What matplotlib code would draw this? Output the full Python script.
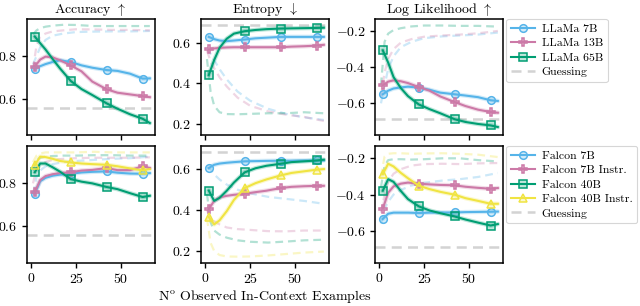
import matplotlib
matplotlib.use("Agg")
import matplotlib.pyplot as plt
from matplotlib.colors import to_rgba
from matplotlib.lines import Line2D

plt.rcParams['font.family'] = ['cmr10', 'DejaVu Serif']
plt.rcParams['mathtext.fontset'] = 'cm'
plt.rcParams['axes.formatter.use_mathtext'] = True
plt.rcParams['font.size'] = 10
plt.rcParams['axes.unicode_minus'] = True

# ---------------- data ----------------
X = [2, 5, 8, 12, 16, 22, 28, 34, 42, 48, 55, 62, 66]          # smoothed curves
XD = [1, 3, 5, 8, 12, 18, 25, 35, 45, 55, 66]                  # faint dashed curves
MARK_IDX = [0, 5, 8, 11]                                        # markers at 2, 22, 42, 62

guess_acc = 0.556
guess_ent = 0.687
guess_ll = -0.687

# Top row: LLaMa
llama_names = ["LLaMa 7B", "LLaMa 13B", "LLaMa 65B"]
llama_acc = [
    [0.74, 0.752, 0.762, 0.772, 0.78, 0.772, 0.756, 0.745, 0.734, 0.73, 0.717, 0.694, 0.695],
    [0.75, 0.783, 0.797, 0.793, 0.78, 0.756, 0.728, 0.68, 0.644, 0.628, 0.62, 0.612, 0.607],
    [0.891, 0.86, 0.83, 0.785, 0.742, 0.683, 0.645, 0.617, 0.578, 0.553, 0.527, 0.506, 0.486],
]
llama_acc_d = [
    [0.76, 0.80, 0.84, 0.875, 0.895, 0.905, 0.912, 0.914, 0.915, 0.915, 0.917],
    [0.74, 0.85, 0.89, 0.905, 0.915, 0.92, 0.925, 0.924, 0.922, 0.922, 0.92],
    [0.90, 0.92, 0.93, 0.937, 0.942, 0.946, 0.945, 0.94, 0.94, 0.94, 0.94],
]
llama_ent = [
    [0.629, 0.618, 0.611, 0.608, 0.611, 0.616, 0.622, 0.625, 0.629, 0.629, 0.629, 0.629, 0.629],
    [0.567, 0.572, 0.575, 0.577, 0.578, 0.578, 0.578, 0.578, 0.578, 0.581, 0.583, 0.586, 0.59],
    [0.441, 0.515, 0.575, 0.62, 0.645, 0.657, 0.663, 0.667, 0.67, 0.671, 0.672, 0.673, 0.674],
]
llama_ent_d = [
    [0.575, 0.545, 0.515, 0.47, 0.42, 0.36, 0.315, 0.275, 0.25, 0.233, 0.22],
    [0.56, 0.51, 0.475, 0.43, 0.385, 0.33, 0.29, 0.262, 0.246, 0.235, 0.215],
    [0.52, 0.36, 0.29, 0.258, 0.249, 0.248, 0.25, 0.253, 0.253, 0.258, 0.253],
]
llama_ll = [
    [-0.55, -0.53, -0.518, -0.512, -0.508, -0.513, -0.525, -0.541, -0.55, -0.557, -0.566, -0.583, -0.587],
    [-0.5, -0.48, -0.473, -0.478, -0.488, -0.51, -0.53, -0.562, -0.593, -0.615, -0.635, -0.648, -0.652],
    [-0.307, -0.375, -0.455, -0.515, -0.56, -0.606, -0.632, -0.655, -0.688, -0.703, -0.714, -0.722, -0.731],
]
llama_ll_d = [
    [-0.6, -0.5, -0.41, -0.34, -0.29, -0.26, -0.24, -0.23, -0.225, -0.22, -0.209],
    [-0.56, -0.43, -0.355, -0.3, -0.265, -0.245, -0.232, -0.225, -0.22, -0.213, -0.2],
    [-0.5, -0.26, -0.215, -0.195, -0.185, -0.175, -0.17, -0.17, -0.172, -0.172, -0.176],
]

# Bottom row: Falcon
falcon_names = ["Falcon 7B", "Falcon 7B Instr.", "Falcon 40B", "Falcon 40B Instr."]
falcon_acc = [
    [0.752, 0.81, 0.826, 0.836, 0.841, 0.845, 0.851, 0.854, 0.856, 0.85, 0.846, 0.845, 0.848],
    [0.758, 0.815, 0.834, 0.843, 0.848, 0.852, 0.86, 0.863, 0.872, 0.862, 0.862, 0.88, 0.872],
    [0.852, 0.893, 0.893, 0.875, 0.855, 0.82, 0.808, 0.8, 0.783, 0.773, 0.754, 0.736, 0.742],
    [0.885, 0.925, 0.923, 0.915, 0.905, 0.898, 0.893, 0.89, 0.887, 0.88, 0.87, 0.861, 0.867],
]
falcon_acc_d = [
    [0.75, 0.83, 0.86, 0.88, 0.89, 0.90, 0.905, 0.91, 0.915, 0.918, 0.925],
    [0.80, 0.87, 0.89, 0.90, 0.91, 0.915, 0.918, 0.92, 0.92, 0.92, 0.922],
    [0.86, 0.91, 0.92, 0.925, 0.928, 0.93, 0.93, 0.932, 0.932, 0.93, 0.93],
    [0.90, 0.93, 0.94, 0.945, 0.945, 0.945, 0.945, 0.948, 0.945, 0.945, 0.945],
]
falcon_ent = [
    [0.606, 0.622, 0.628, 0.632, 0.635, 0.639, 0.64, 0.641, 0.642, 0.642, 0.643, 0.643, 0.643],
    [0.405, 0.445, 0.462, 0.47, 0.475, 0.48, 0.488, 0.495, 0.508, 0.514, 0.517, 0.519, 0.519],
    [0.496, 0.445, 0.46, 0.495, 0.535, 0.585, 0.605, 0.617, 0.627, 0.635, 0.639, 0.643, 0.647],
    [0.366, 0.33, 0.35, 0.395, 0.45, 0.508, 0.532, 0.55, 0.57, 0.582, 0.59, 0.598, 0.601],
]
falcon_ent_d = [
    [0.61, 0.60, 0.575, 0.55, 0.525, 0.50, 0.482, 0.465, 0.455, 0.445, 0.431],
    [0.40, 0.36, 0.345, 0.33, 0.315, 0.307, 0.303, 0.297, 0.296, 0.30, 0.30],
    [0.48, 0.34, 0.30, 0.28, 0.265, 0.252, 0.245, 0.241, 0.246, 0.252, 0.255],
    [0.36, 0.24, 0.20, 0.18, 0.173, 0.172, 0.173, 0.178, 0.185, 0.192, 0.197],
]
falcon_ll = [
    [-0.535, -0.506, -0.5, -0.5, -0.5, -0.502, -0.5, -0.499, -0.499, -0.497, -0.496, -0.495, -0.494],
    [-0.478, -0.39, -0.355, -0.34, -0.334, -0.34, -0.344, -0.347, -0.349, -0.357, -0.363, -0.368, -0.364],
    [-0.379, -0.315, -0.33, -0.38, -0.425, -0.465, -0.488, -0.503, -0.521, -0.538, -0.555, -0.571, -0.563],
    [-0.287, -0.23, -0.245, -0.28, -0.31, -0.351, -0.37, -0.385, -0.401, -0.42, -0.435, -0.451, -0.451],
]
falcon_ll_d = [
    [-0.56, -0.48, -0.44, -0.40, -0.375, -0.35, -0.335, -0.323, -0.315, -0.303, -0.281],
    [-0.50, -0.40, -0.33, -0.285, -0.26, -0.24, -0.232, -0.23, -0.232, -0.228, -0.226],
    [-0.36, -0.24, -0.21, -0.205, -0.205, -0.207, -0.205, -0.20, -0.20, -0.21, -0.217],
    [-0.30, -0.19, -0.175, -0.172, -0.172, -0.175, -0.173, -0.172, -0.175, -0.18, -0.193],
]

titles = [r"Accuracy $\uparrow$", r"Entropy $\downarrow$", r"Log Likelihood $\uparrow$"]
xlabel = r"N$^{\mathrm{o}}$ Observed In-Context Examples"

BLUE, PINK, GREEN, YELLOW = "#56B4E9", "#CC79A7", "#009E73", "#F0E442"
GUESS_C = "#d3d3d3"
llama_style = [(BLUE, "o"), (PINK, "P"), (GREEN, "s")]
falcon_style = [(BLUE, "o"), (PINK, "P"), (GREEN, "s"), (YELLOW, "^")]

# ---------------- figure ----------------
fig = plt.figure(figsize=(6.4, 3.06), dpi=100)
W, H = 640, 306
lefts = [26.5, 200.5, 374.5]
width = 128
rows = [(19, 135), (146, 263)]
ylims = [
    [(0.43, 0.973), (0.146, 0.717), (-0.775, -0.134)],
    [(0.427, 0.975), (0.141, 0.714), (-0.778, -0.132)],
]
yticks = [[0.6, 0.8], [0.2, 0.4, 0.6], [-0.6, -0.4, -0.2]]

def draw(ax, solid, dashed, styles, guess):
    for ys, yd, (c, m) in zip(solid, dashed, styles):
        ax.plot(XD, yd, ls=(0, (3.5, 2.2)), color=c, lw=1.6, alpha=0.3, zorder=2)
    ax.axhline(guess, color=GUESS_C, lw=1.8, ls=(0, (4, 2.5)), zorder=1)
    for ys, (c, m) in zip(solid, styles):
        ax.plot(X, ys, color=c, lw=3.2, alpha=0.25, zorder=3, solid_capstyle='round')
        ax.plot(X, ys, color=c, lw=1.5, marker=m, markevery=MARK_IDX, ms=5.5,
                mfc=to_rgba(c, 0.25), mec=c, mew=1.1, zorder=4)

axes = []
for r, (top, bot) in enumerate(rows):
    for ci in range(3):
        ax = fig.add_axes([lefts[ci] / W, 1 - bot / H, width / W, (bot - top) / H])
        axes.append(ax)
        if r == 0:
            data = [(llama_acc, llama_acc_d, guess_acc), (llama_ent, llama_ent_d, guess_ent),
                    (llama_ll, llama_ll_d, guess_ll)][ci]
            styles = llama_style
        else:
            data = [(falcon_acc, falcon_acc_d, guess_acc), (falcon_ent, falcon_ent_d, guess_ent),
                    (falcon_ll, falcon_ll_d, guess_ll)][ci]
            styles = falcon_style
        draw(ax, data[0], data[1], styles, data[2])
        ax.set_xlim(-2.6, 68.6)
        ax.set_ylim(*ylims[r][ci])
        ax.set_yticks(yticks[ci])
        ax.set_xticks([0, 25, 50])
        for s in ax.spines.values():
            s.set_linewidth(1.1)
        ax.tick_params(direction='out', length=3.5, width=1.0, labelsize=10, pad=3)
        if r == 0:
            ax.set_xticklabels([])
            ax.set_title(titles[ci], fontsize=10, pad=4)

    names = llama_names if r == 0 else falcon_names
    styles = llama_style if r == 0 else falcon_style
    handles = [Line2D([], [], color=c, lw=1.5, marker=m, ms=5.5, mfc=to_rgba(c, 0.25), mec=c, mew=1.1)
               for c, m in styles]
    handles.append(Line2D([], [], color=GUESS_C, lw=1.8, ls=(0, (4, 2.5))))
    leg = axes[-1].legend(handles, names + ["Guessing"], loc='upper left',
                          bbox_to_anchor=(1.03, 1.0), borderaxespad=0, fontsize=8.5,
                          frameon=True, fancybox=True, handlelength=2.0,
                          labelspacing=0.35, borderpad=0.4, handletextpad=0.6)
    leg.get_frame().set_edgecolor('#cccccc')
    leg.get_frame().set_linewidth(0.8)

fig.text(265 / W, 9.5 / H, xlabel, ha='center', va='center', fontsize=10)

fig.savefig("out.png", dpi=100)
